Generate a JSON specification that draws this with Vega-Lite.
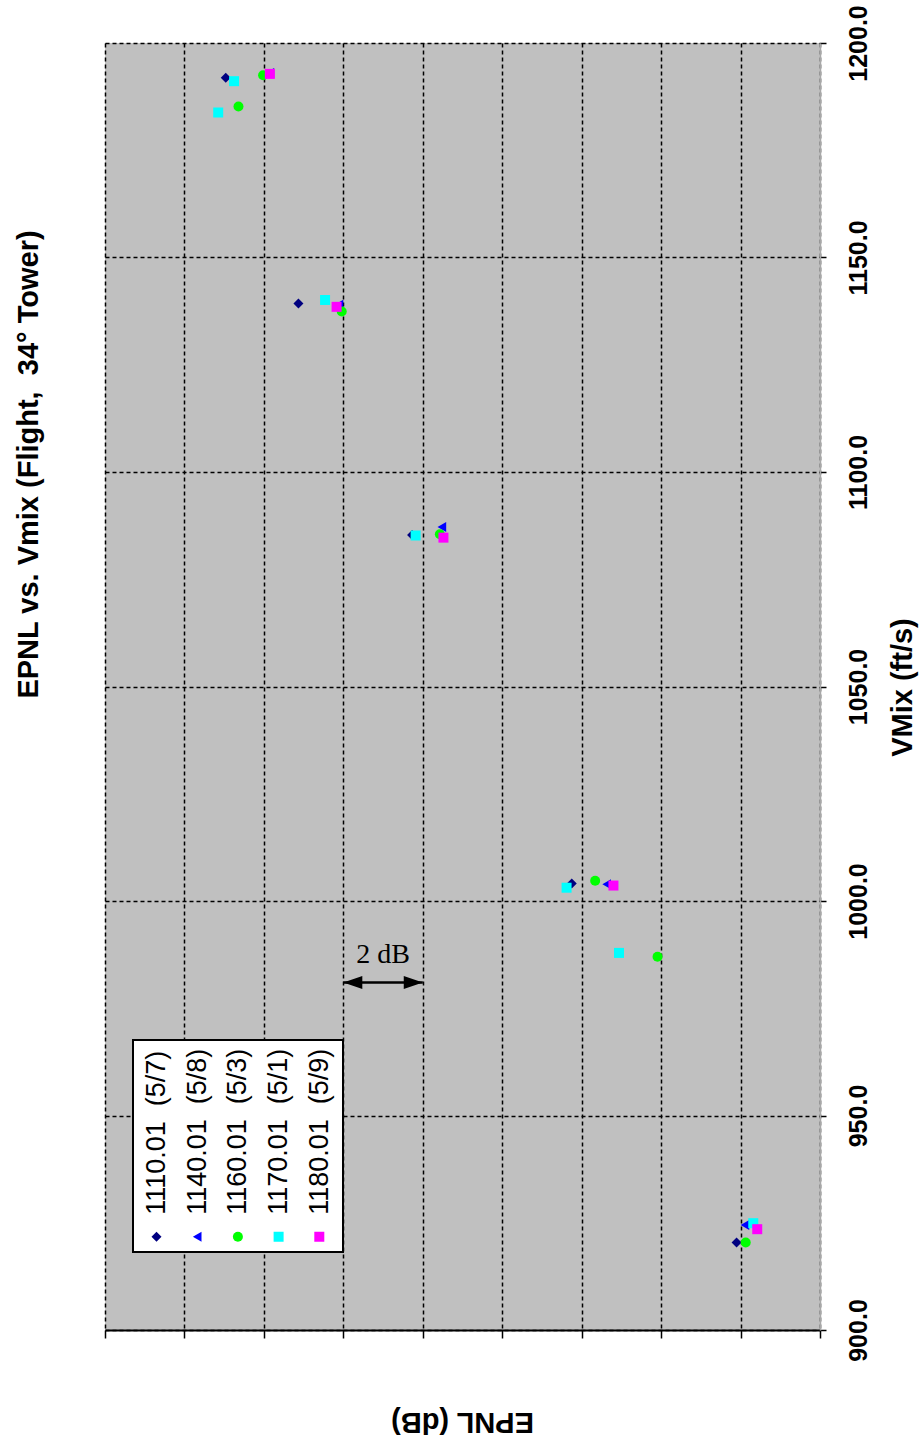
{
  "$schema": "https://vega.github.io/schema/vega-lite/v6.json",
  "width": 715,
  "height": 1287,
  "autosize": {"type": "none"},
  "padding": {"left": 105, "top": 43, "right": 100, "bottom": 115},
  "background": "white",
  "config": {
    "view": {"fill": "#C0C0C0", "stroke": null},
    "font": "Liberation Sans"
  },
  "title": {
    "text": "EPNL vs. Vmix (Flight,\u00a0 34° Tower)",
    "orient": "left",
    "anchor": "middle",
    "fontSize": 29,
    "fontWeight": "bold",
    "font": "Liberation Sans",
    "color": "black",
    "offset": 60,
    "dx": 222
  },
  "layer": [
    {
      "data": {
        "values": [
          {"series": "1110.01\u00a0 (5/7)", "EPNL": 94.96, "VMix": 1191.9},
          {"series": "1110.01\u00a0 (5/7)", "EPNL": 93.13, "VMix": 1139.3},
          {"series": "1110.01\u00a0 (5/7)", "EPNL": 90.27, "VMix": 1085.3},
          {"series": "1110.01\u00a0 (5/7)", "EPNL": 86.25, "VMix": 1004.1},
          {"series": "1110.01\u00a0 (5/7)", "EPNL": 82.10, "VMix": 920.4},
          {"series": "1140.01\u00a0 (5/8)", "EPNL": 93.85, "VMix": 1193.0},
          {"series": "1140.01\u00a0 (5/8)", "EPNL": 92.11, "VMix": 1139.0},
          {"series": "1140.01\u00a0 (5/8)", "EPNL": 89.52, "VMix": 1087.2},
          {"series": "1140.01\u00a0 (5/8)", "EPNL": 85.37, "VMix": 1003.9},
          {"series": "1140.01\u00a0 (5/8)", "EPNL": 81.89, "VMix": 924.5},
          {"series": "1160.01\u00a0 (5/3)", "EPNL": 94.02, "VMix": 1192.5},
          {"series": "1160.01\u00a0 (5/3)", "EPNL": 94.64, "VMix": 1185.2},
          {"series": "1160.01\u00a0 (5/3)", "EPNL": 92.04, "VMix": 1137.4},
          {"series": "1160.01\u00a0 (5/3)", "EPNL": 89.57, "VMix": 1085.5},
          {"series": "1160.01\u00a0 (5/3)", "EPNL": 85.66, "VMix": 1004.7},
          {"series": "1160.01\u00a0 (5/3)", "EPNL": 84.09, "VMix": 987.0},
          {"series": "1160.01\u00a0 (5/3)", "EPNL": 81.87, "VMix": 920.4},
          {"series": "1170.01\u00a0 (5/1)", "EPNL": 94.75, "VMix": 1191.1},
          {"series": "1170.01\u00a0 (5/1)", "EPNL": 95.15, "VMix": 1183.8},
          {"series": "1170.01\u00a0 (5/1)", "EPNL": 92.46, "VMix": 1140.1},
          {"series": "1170.01\u00a0 (5/1)", "EPNL": 90.18, "VMix": 1085.2},
          {"series": "1170.01\u00a0 (5/1)", "EPNL": 86.38, "VMix": 1003.1},
          {"series": "1170.01\u00a0 (5/1)", "EPNL": 85.06, "VMix": 987.9},
          {"series": "1170.01\u00a0 (5/1)", "EPNL": 81.68, "VMix": 924.9},
          {"series": "1180.01\u00a0 (5/9)", "EPNL": 93.85, "VMix": 1192.8},
          {"series": "1180.01\u00a0 (5/9)", "EPNL": 92.17, "VMix": 1138.5},
          {"series": "1180.01\u00a0 (5/9)", "EPNL": 89.48, "VMix": 1084.7},
          {"series": "1180.01\u00a0 (5/9)", "EPNL": 85.20, "VMix": 1003.6},
          {"series": "1180.01\u00a0 (5/9)", "EPNL": 81.58, "VMix": 923.5}
        ]
      },
      "mark": {"type": "point", "filled": true, "size": 100, "opacity": 1, "strokeWidth": 0},
      "encoding": {
        "x": {
          "field": "EPNL",
          "type": "quantitative",
          "scale": {"domain": [80, 98], "reverse": true, "nice": false, "zero": false},
          "axis": {
            "orient": "bottom",
            "values": [80, 82, 84, 86, 88, 90, 92, 94, 96, 98],
            "labels": false,
            "ticks": true,
            "tickSize": 8,
            "tickColor": "black",
            "tickWidth": 1.5,
            "domain": true,
            "domainColor": "black",
            "domainWidth": 2,
            "grid": true,
            "gridColor": "black",
            "gridDash": [4, 3],
            "gridWidth": 1.5,
            "gridOpacity": 1,
            "title": "EPNL (dB)",
            "titleAngle": 180,
            "titleX": 357,
            "titleY": 91,
            "titleAlign": "center",
            "titleBaseline": "middle",
            "titleFontSize": 29,
            "titleFontWeight": "bold",
            "titleFont": "Liberation Sans",
            "titleColor": "black"
          }
        },
        "y": {
          "field": "VMix",
          "type": "quantitative",
          "scale": {"domain": [900, 1200], "nice": false, "zero": false},
          "axis": {
            "orient": "right",
            "values": [900, 950, 1000, 1050, 1100, 1150, 1200],
            "format": ".1f",
            "labelAngle": -90,
            "labelAlign": "center",
            "labelBaseline": "top",
            "labelFontSize": 25,
            "labelFontWeight": "bold",
            "labelFont": "Liberation Sans",
            "labelColor": "black",
            "labelPadding": 20,
            "tickSize": 6,
            "tickColor": "black",
            "tickWidth": 1.5,
            "domain": true,
            "domainColor": "#A8A8A8",
            "domainWidth": 1.5,
            "grid": true,
            "gridColor": "black",
            "gridDash": [4, 3],
            "gridWidth": 1.5,
            "gridOpacity": 1,
            "title": "VMix (ft/s)",
            "titleAngle": -90,
            "titleX": 82,
            "titleY": 644,
            "titleAlign": "center",
            "titleBaseline": "middle",
            "titleFontSize": 29,
            "titleFontWeight": "bold",
            "titleFont": "Liberation Sans",
            "titleColor": "black"
          }
        },
        "color": {
          "field": "series",
          "type": "nominal",
          "scale": {
            "domain": ["1110.01\u00a0 (5/7)", "1140.01\u00a0 (5/8)", "1160.01\u00a0 (5/3)", "1170.01\u00a0 (5/1)", "1180.01\u00a0 (5/9)"],
            "range": ["#000080", "#0000FF", "#00FF00", "#00FFFF", "#FF00FF"]
          },
          "legend": {
            "title": "\u00a0",
            "titleFontSize": 160,
            "titlePadding": 13,
            "orient": "none",
            "legendX": 28,
            "legendY": 997,
            "direction": "horizontal",
            "columns": 5,
            "fillColor": "white",
            "strokeColor": "black",
            "padding": 10,
            "labelFont": "Liberation Sans",
            "labelFontSize": 27,
            "labelColor": "black",
            "labelLimit": 400,
            "symbolSize": 100,
            "symbolOpacity": 1,
            "symbolStrokeWidth": 0,
            "columnPadding": 12.7,
            "encode": {
              "labels": {"update": {"angle": {"value": -90}, "align": {"value": "left"}, "baseline": {"value": "middle"}, "dx": {"value": 22}, "dy": {"value": -17}}},
              "legend": {"update": {"strokeWidth": {"value": 2}}}
            }
          }
        },
        "shape": {
          "field": "series",
          "type": "nominal",
          "scale": {
            "domain": ["1110.01\u00a0 (5/7)", "1140.01\u00a0 (5/8)", "1160.01\u00a0 (5/3)", "1170.01\u00a0 (5/1)", "1180.01\u00a0 (5/9)"],
            "range": ["diamond", "triangle-left", "circle", "square", "square"]
          },
          "legend": {
            "title": "\u00a0",
            "titleFontSize": 160,
            "titlePadding": 13,
            "orient": "none",
            "legendX": 28,
            "legendY": 997,
            "direction": "horizontal",
            "columns": 5,
            "fillColor": "white",
            "strokeColor": "black",
            "padding": 10,
            "labelFont": "Liberation Sans",
            "labelFontSize": 27,
            "labelColor": "black",
            "labelLimit": 400,
            "symbolSize": 100,
            "symbolOpacity": 1,
            "symbolStrokeWidth": 0,
            "columnPadding": 12.7,
            "encode": {
              "labels": {"update": {"angle": {"value": -90}, "align": {"value": "left"}, "baseline": {"value": "middle"}, "dx": {"value": 22}, "dy": {"value": -17}}},
              "legend": {"update": {"strokeWidth": {"value": 2}}}
            }
          }
        }
      }
    },
    {
      "data": {"values": [{"from": 92, "to": 90, "VMix": 981, "label": "2 dB", "mid": 91, "labelV": 985.5}]},
      "layer": [
        {
          "mark": {"type": "rule", "color": "black", "strokeWidth": 2.5},
          "encoding": {
            "x": {"field": "from", "type": "quantitative"},
            "x2": {"field": "to"},
            "y": {"field": "VMix", "type": "quantitative"}
          }
        },
        {
          "mark": {"type": "point", "shape": "M0,0L2,-0.68L2,0.68Z", "filled": true, "color": "black", "size": 361, "opacity": 1, "strokeWidth": 0},
          "encoding": {
            "x": {"field": "from", "type": "quantitative"},
            "y": {"field": "VMix", "type": "quantitative"}
          }
        },
        {
          "mark": {"type": "point", "shape": "M0,0L-2,-0.68L-2,0.68Z", "filled": true, "color": "black", "size": 361, "opacity": 1, "strokeWidth": 0},
          "encoding": {
            "x": {"field": "to", "type": "quantitative"},
            "y": {"field": "VMix", "type": "quantitative"}
          }
        },
        {
          "mark": {"type": "text", "font": "Liberation Serif", "fontSize": 28, "color": "black", "align": "center", "baseline": "alphabetic"},
          "encoding": {
            "x": {"field": "mid", "type": "quantitative"},
            "y": {"field": "labelV", "type": "quantitative"},
            "text": {"field": "label"}
          }
        }
      ]
    }
  ]
}
